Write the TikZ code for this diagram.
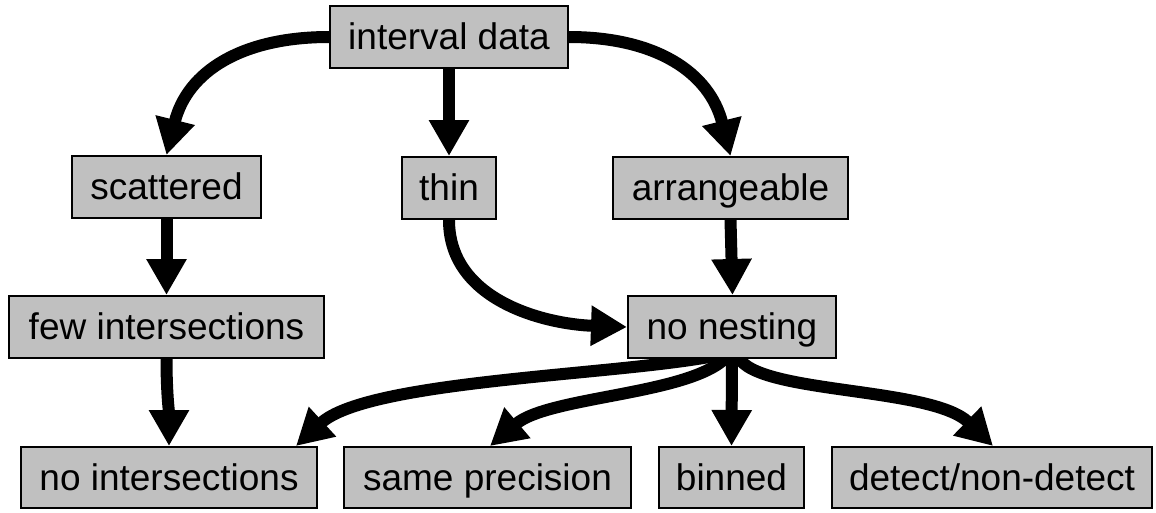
\documentclass[tikz,border=0pt]{standalone}
\usepackage{fontspec}
\setmainfont{Liberation Sans}
\usetikzlibrary{arrows.meta}
\definecolor{boxgray}{HTML}{C0C0C0}
\pgfdeclarelayer{bg}
\pgfsetlayers{bg,main}

\begin{document}
\begin{tikzpicture}[x=1pt,y=1pt,
  box/.style={draw=black, line width=2pt, fill=boxgray, inner sep=0pt,
    minimum height=62pt, text height=30pt, text depth=5pt,
    font=\fontsize{37}{44}\selectfont},
  flow/.style={line width=12pt, -{Triangle[width=38pt,length=36pt]}}]
  \useasboundingbox (0,0) rectangle (1156,-512);

  % boxes
  \node[box, minimum width=238pt] (id) at (449,-37)    {interval data};
  \node[box, minimum width=189pt] (sc) at (166.5,-187) {scattered};
  \node[box, minimum width=94pt]  (th) at (449,-188)   {thin};
  \node[box, minimum width=235pt] (ar) at (730.5,-188) {arrangeable};
  \node[box, minimum width=315pt] (fi) at (166.5,-327) {few intersections};
  \node[box, minimum width=208pt] (nn) at (732,-327)   {no nesting};
  \node[box, minimum width=296pt, minimum height=61pt] (ni) at (169,-477.5)   {no intersections};
  \node[box, minimum width=287pt, minimum height=61pt] (sp) at (487.5,-477.5) {same precision};
  \node[box, minimum width=145pt, minimum height=61pt] (bi) at (731.5,-477.5) {binned};
  \node[box, minimum width=320pt, minimum height=61pt] (dn) at (992,-477.5)   {detect/non-detect};

  % connectors, kept behind the boxes
  \begin{pgfonlayer}{bg}
    \draw[flow] (id.west) to[out=180,in=76,looseness=1.1] (sc.north);
    \draw[flow] (id.south) -- (th.north);
    \draw[flow] (id.east) to[out=0,in=104,looseness=1.1] (ar.north);
    \draw[flow] (sc.south) -- (fi.north);
    \draw[flow] (th.south) to[out=-90,in=178] (nn.west);
    \draw[flow] (ar.south) -- ([xshift=0.5pt]nn.north);
    \draw[flow] (fi.south) to[out=-90,in=90] (ni.north);
    \draw[flow] ([xshift=-4pt,yshift=6pt]nn.south)
      .. controls (640,-375) and (370,-378) .. ([xshift=127pt]ni.north);
    \draw[flow] ([xshift=-2pt,yshift=6pt]nn.south)
      .. controls (700,-395) and (550,-395) .. ([xshift=2.5pt]sp.north);
    \draw[flow] ([yshift=6pt]nn.south) -- (bi.north);
    \draw[flow] ([xshift=5pt,yshift=6pt]nn.south)
      .. controls (745,-395) and (930,-385) .. ([xshift=1pt]dn.north);
  \end{pgfonlayer}
\end{tikzpicture}
\end{document}
